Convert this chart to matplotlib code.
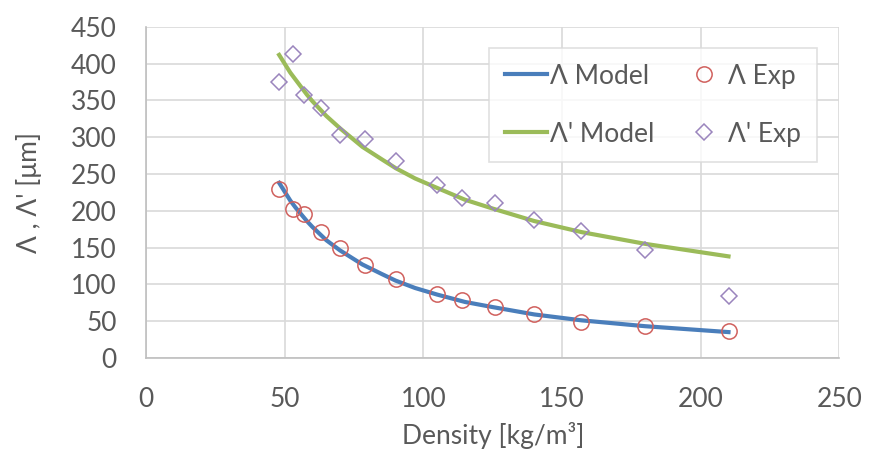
import matplotlib.pyplot as plt

density_exp = [48, 53, 57, 63, 70, 79, 90, 105, 114, 126, 140, 157, 180, 210]
lam_exp = [229, 203, 195, 171, 150, 126, 107, 87, 79, 69, 59, 49, 43, 37]
lamp_exp = [375, 413, 358, 340, 303, 297, 268, 235, 217, 210, 187, 172, 146, 84]

# model curves
density_mod = [48, 50, 52, 54, 56, 58, 60, 65, 70, 78, 85, 90, 97, 105, 115, 125, 140, 157, 180, 210]
lam_mod = [238, 226, 214, 204, 195, 186, 178, 160, 146, 127, 114, 105, 95, 86, 76, 69, 59, 51, 43, 35]
lamp_mod = [412, 400, 388, 378, 368, 358, 349, 329, 312, 287, 270, 258, 244, 231, 215, 203, 186, 171, 155, 138]

xticks = [0, 50, 100, 150, 200, 250]
yticks = [0, 50, 100, 150, 200, 250, 300, 350, 400, 450]

txt = '#595959'
grid = '#d9d9d9'
fs = 19
plt.rcParams['font.family'] = ['Lato', 'DejaVu Sans']

fig = plt.figure(figsize=(8.69, 4.57), dpi=100)
ax = fig.add_axes([0.168, 0.217, 0.798, 0.724])

ax.plot(density_mod, lam_mod, color='#4a7ebb', lw=3, label='Λ Model', zorder=3)
ax.plot(density_mod, lamp_mod, color='#9bbb59', lw=3, label="Λ' Model", zorder=3)
ax.plot(density_exp, lam_exp, ls='none', marker='o', ms=11, mfc='none',
        mec='#d0605d', mew=1.1, label='Λ Exp', zorder=4)
ax.plot(density_exp, lamp_exp, ls='none', marker='D', ms=8, mfc='none',
        mec='#9a85bd', mew=1.1, label="Λ' Exp", zorder=4)

ax.set_xlim(0, 250)
ax.set_ylim(0, 450)
ax.set_xticks(xticks)
ax.set_yticks(yticks)
ax.grid(True, color=grid, lw=1.2)
ax.set_axisbelow(True)
for s in ['top', 'right']:
    ax.spines[s].set_visible(False)
for s in ['left', 'bottom']:
    ax.spines[s].set_color('#bfbfbf')
    ax.spines[s].set_linewidth(1.2)
ax.tick_params(length=0, labelsize=fs, labelcolor=txt)
ax.tick_params(axis='y', pad=21)
ax.tick_params(axis='x', pad=21)

ax.set_xlabel('Density [kg/m³]', fontsize=fs, color=txt, labelpad=7)
ax.set_ylabel("Λ , Λ' [μm]", fontsize=fs, color=txt, labelpad=21)

leg = ax.legend(ncol=2, loc='upper right', bbox_to_anchor=(0.967, 0.937),
                borderaxespad=0, fontsize=fs, frameon=True, fancybox=False,
                handlelength=1.6, handletextpad=0.1, columnspacing=1.1,
                labelspacing=1.25, borderpad=0.6, labelcolor=txt)
leg.get_frame().set_edgecolor(grid)
leg.get_frame().set_linewidth(1.2)

fig.savefig('out.png', dpi=100)
